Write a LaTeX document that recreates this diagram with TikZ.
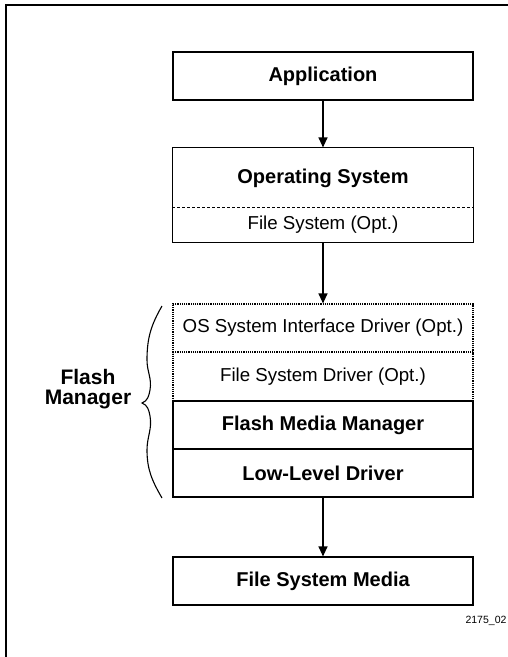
\documentclass[tikz,border=0pt]{standalone}
\usepackage{fontspec}
\setmainfont{Liberation Sans}
\usetikzlibrary{positioning,arrows.meta}
\tikzset{
  layer/.style={
    minimum width=300pt,
    minimum height=48pt,
    inner sep=0pt,
    line width=1.2pt,
    font=\fontsize{20}{22}\selectfont\bfseries
  },
  optlayer/.style={
    layer,
    font=\fontsize{18.7}{22}\selectfont
  },
  flow/.style={
    line width=1.2pt,
    -{Triangle[length=10pt,width=9pt]}
  }
}

\begin{document}
\begin{tikzpicture}[x=1pt,y=1pt]
  \clip (0,0) rectangle (508,-657);
  % outer frame, only top and left edges fall on the page
  \draw[line width=2.4pt] (6,-5) rectangle (540,-700);

  \node[layer, draw] (App) at (323,-76) {Application};
  \node[layer, on grid, below=102pt of App, minimum height=60pt] (OS) {Operating System};
  \node[optlayer, on grid, below=47pt of OS, minimum height=34pt] (FSOpt) {File System (Opt.)};
  \draw[line width=1.2pt] (OS.north west) rectangle (FSOpt.south east);
  \draw[densely dashed, line width=0.5pt] (FSOpt.north west) -- (FSOpt.north east);

  % flash manager stack
  \node[optlayer, on grid, below=103pt of FSOpt, draw, densely dotted] (OSID) {OS System Interface Driver (Opt.)};
  \node[optlayer, on grid, below=48.5pt of OSID, draw, densely dotted] (FSD) {File System Driver (Opt.)};
  \node[layer, on grid, below=48.5pt of FSD, draw] (FMM) {Flash Media Manager};
  \node[layer, on grid, below=48pt of FMM, draw] (LLD) {Low-Level Driver};
  \node[layer, on grid, below=108pt of LLD, draw] (FSM) {File System Media};

  \draw[flow] (App) -- (OS);
  \draw[flow] (FSOpt) -- (OSID);
  \draw[flow] (LLD) -- (FSM);

  % brace round the stack
  \coordinate (BrTop) at (162,-306);
  \coordinate (BrTip) at (142,-403);
  \coordinate (BrBot) at (162,-498);
  \draw[line width=1.1pt] (BrTop) to[out=240,in=90] (147,-360) to[out=270,in=80] (150,-390)
    to[out=260,in=20] (BrTip) to[out=-20,in=100] (150,-416) to[out=280,in=90] (147,-450)
    to[out=270,in=120] (BrBot);
  \node[align=center, font=\fontsize{21}{20}\selectfont\bfseries] (FlashMgr) at (88,-389) {Flash\\Manager};

  \node[font=\fontsize{10.5}{12}\selectfont] (FigNo) at (486,-621) {2175\_02};
\end{tikzpicture}
\end{document}
